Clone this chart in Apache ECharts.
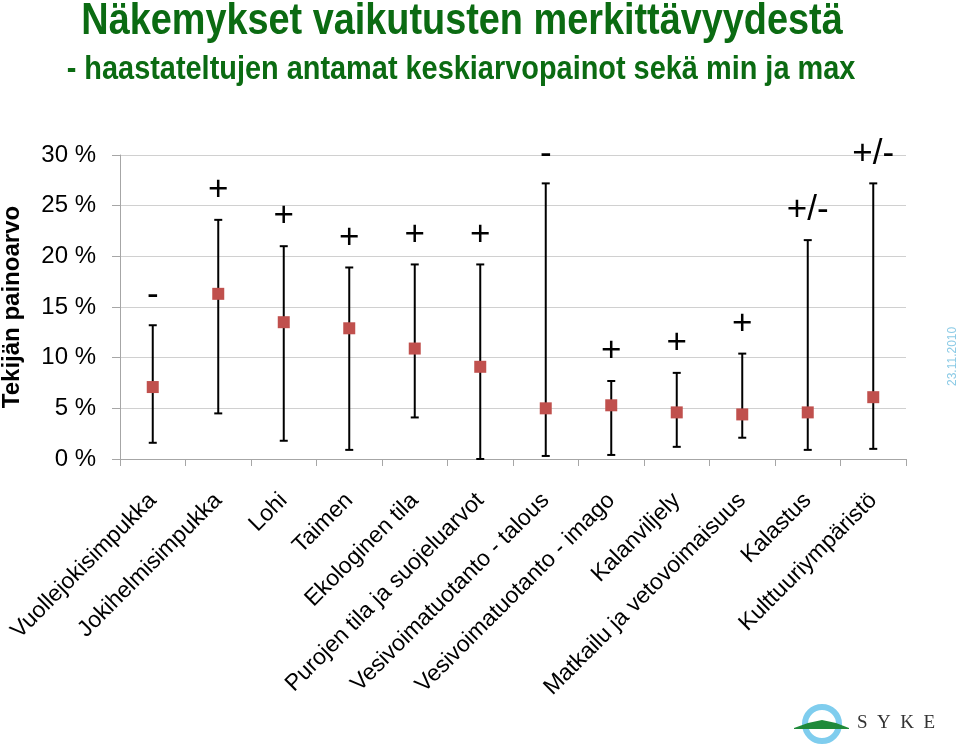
<!DOCTYPE html>
<html>
<head>
<meta charset="utf-8">
<script src="https://cdn.jsdelivr.net/npm/echarts@6/dist/echarts.min.js"></script>
<style>
  html, body { margin: 0; padding: 0; background: #fff; }
  #main { width: 960px; height: 753px; }
</style>
</head>
<body>
<div id="main"></div>
<script>
// kategoriat
var categories = ['Vuollejokisimpukka', 'Jokihelmisimpukka', 'Lohi', 'Taimen', 'Ekologinen tila',
  'Purojen tila ja suojeluarvot', 'Vesivoimatuotanto - talous', 'Vesivoimatuotanto - imago',
  'Kalanviljely', 'Matkailu ja vetovoimaisuus', 'Kalastus', 'Kulttuuriympäristö'];

// keskiarvo, min ja max (%)
var meanValues = [7.1, 16.3, 13.5, 12.9, 10.9, 9.1, 5.0, 5.3, 4.6, 4.4, 4.6, 6.1];
var minValues  = [1.6, 4.5, 1.8, 0.9, 4.1, 0.0, 0.3, 0.4, 1.2, 2.1, 0.9, 1.0];
var maxValues  = [13.2, 23.6, 21.0, 18.9, 19.2, 19.2, 27.2, 7.7, 8.5, 10.4, 21.6, 27.2];

// vaikutuksen suunta
var signs = ['-', '+', '+', '+', '+', '+', '-', '+', '+', '+', '+/-', '+/-'];

var errorData = categories.map(function (c, i) {
  return [i, minValues[i], maxValues[i]];
});

var green = '#0b6b12';

var chart = echarts.init(document.getElementById('main'));

chart.setOption({
  backgroundColor: '#ffffff',
  animation: false,
  grid: {
    left: 120,
    right: 54,
    top: 155,
    bottom: 294,
    containLabel: false,
    outerBoundsMode: 'none'
  },
  xAxis: {
    type: 'category',
    data: categories,
    boundaryGap: true,
    axisLine: { lineStyle: { color: '#a6a6a6', width: 1 } },
    axisTick: { show: true, interval: 0, length: 7, lineStyle: { color: '#a6a6a6' } },
    axisLabel: {
      interval: 0,
      rotate: 45,
      margin: 38,
      fontFamily: 'Liberation Sans, Arial, sans-serif',
      fontSize: 23,
      color: '#000'
    }
  },
  yAxis: {
    type: 'value',
    min: 0,
    max: 30,
    interval: 5,
    name: 'Tekijän painoarvo',
    nameLocation: 'middle',
    nameGap: 96,
    nameTextStyle: {
      fontFamily: 'Liberation Sans, Arial, sans-serif',
      fontWeight: 'bold',
      fontSize: 24,
      color: '#000'
    },
    axisLine: { show: true, lineStyle: { color: '#a6a6a6' } },
    axisTick: { show: true, length: 8, lineStyle: { color: '#a6a6a6' } },
    splitLine: { lineStyle: { color: '#d0d0d0', width: 1 } },
    axisLabel: {
      margin: 24,
      fontFamily: 'Liberation Sans, Arial, sans-serif',
      fontSize: 24,
      color: '#000',
      formatter: function (v) { return v + ' %'; }
    }
  },
  series: [{
    type: 'custom',
    data: errorData,
    z: 2,
    renderItem: function (params, api) {
      var x = api.coord([api.value(0), 0])[0];
      var yMin = api.coord([api.value(0), api.value(1)])[1];
      var yMax = api.coord([api.value(0), api.value(2)])[1];
      var cap = 4;
      var style = { stroke: '#000', lineWidth: 2 };
      return {
        type: 'group',
        children: [
          { type: 'line', shape: { x1: x, y1: yMin, x2: x, y2: yMax }, style: style },
          { type: 'line', shape: { x1: x - cap, y1: yMin, x2: x + cap, y2: yMin }, style: style },
          { type: 'line', shape: { x1: x - cap, y1: yMax, x2: x + cap, y2: yMax }, style: style },
          {
            type: 'text',
            style: {
              text: signs[params.dataIndex],
              x: x,
              y: yMax - 12,
              align: 'center',
              verticalAlign: 'bottom',
              fill: '#000',
              font: '35px "Liberation Sans", Arial, sans-serif'
            }
          }
        ]
      };
    }
  }, {
    type: 'scatter',
    data: meanValues,
    symbol: 'rect',
    symbolSize: 12,
    z: 3,
    itemStyle: { color: '#c0504d', opacity: 1 }
  }],
  graphic: [{
    type: 'text',
    x: 462,
    y: 22,
    scaleX: 0.86,
    style: {
      text: 'Näkemykset vaikutusten merkittävyydestä',
      align: 'center',
      verticalAlign: 'middle',
      fill: green,
      font: 'bold 44px "Liberation Sans", Arial, sans-serif'
    }
  }, {
    type: 'text',
    x: 461,
    y: 70,
    scaleX: 0.85,
    style: {
      text: '- haastateltujen antamat keskiarvopainot sekä min ja max',
      align: 'center',
      verticalAlign: 'middle',
      fill: green,
      font: 'bold 34px "Liberation Sans", Arial, sans-serif'
    }
  }, {
    type: 'text',
    x: 947,
    y: 386,
    rotation: Math.PI / 2,
    style: {
      text: '23.11.2010',
      fill: '#8ccbe6',
      font: '12px "Liberation Sans", Arial, sans-serif'
    }
  }, {
    type: 'group',
    x: 794,
    y: 704,
    children: [
      { type: 'circle', shape: { cx: 28, cy: 20, r: 17 }, style: { fill: 'none', stroke: '#7fcdee', lineWidth: 6 } },
      { type: 'polygon', shape: { points: [[0, 24], [14, 19], [28, 16], [42, 19], [55, 24], [55, 25], [0, 25]] }, style: { fill: '#1f8a3a' } },
      { type: 'text', style: { x: 63, y: 10, text: 'S  Y  K  E', fill: '#333', font: '19px "Liberation Serif", serif' } }
    ]
  }]
});
</script>
</body>
</html>
